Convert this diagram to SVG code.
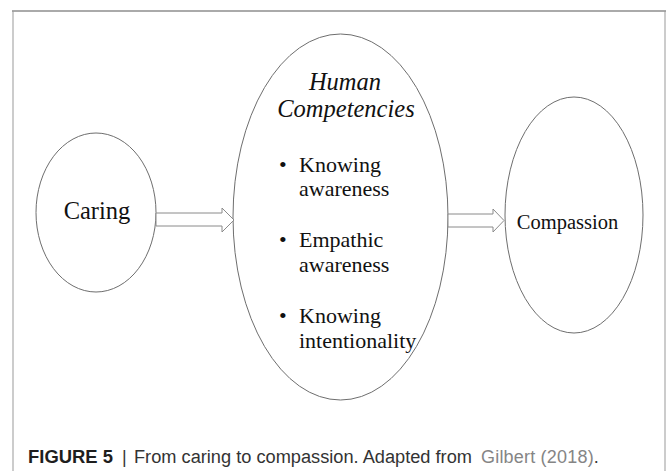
<svg xmlns="http://www.w3.org/2000/svg" width="668" height="471" viewBox="0 0 668 471">
<style>
.node{fill:#fff;stroke:#6e6e6e;stroke-width:1}
.arrow{fill:#fff;stroke:#8a8a8a;stroke-width:1}
.serif{font-family:"Liberation Serif","Times New Roman",serif;fill:#111}
.cap{font-family:"Liberation Sans",Arial,sans-serif;font-size:18px}
</style>
<rect x="0" y="0" width="668" height="471" fill="#fff"/>
<g id="frame">
<line x1="12" y1="11" x2="666" y2="11" stroke="#aaa" stroke-width="2"/>
<line x1="13" y1="11" x2="13" y2="471" stroke="#999" stroke-width="1"/>
<line x1="665" y1="11" x2="665" y2="471" stroke="#999" stroke-width="1"/>
</g>
<g id="caring">
<ellipse class="node" cx="96" cy="212.5" rx="60" ry="79.5"/>
<text class="serif" x="97" y="219" font-size="24.5" text-anchor="middle">Caring</text>
</g>
<g id="competencies">
<ellipse class="node" cx="340.5" cy="217" rx="107.5" ry="183"/>
<text class="serif" x="345" y="90" font-size="24.5" font-style="italic" text-anchor="middle">Human</text>
<text class="serif" x="346" y="117" font-size="24.5" font-style="italic" text-anchor="middle">Competencies</text>
<g font-size="22" class="serif">
<text class="serif" x="279" y="172">•</text>
<text class="serif" x="299" y="172">Knowing</text>
<text class="serif" x="299" y="196">awareness</text>
<text class="serif" x="279" y="247">•</text>
<text class="serif" x="299" y="247">Empathic</text>
<text class="serif" x="299" y="272">awareness</text>
<text class="serif" x="279" y="323">•</text>
<text class="serif" x="299" y="323">Knowing</text>
<text class="serif" x="299" y="348">intentionality</text>
</g>
</g>
<g id="compassion">
<ellipse class="node" cx="574" cy="215" rx="69" ry="118"/>
<text class="serif" x="567.5" y="229" font-size="20.5" text-anchor="middle">Compassion</text>
</g>
<g id="connectors">
<polygon class="arrow" points="156,213 222,213 222,208 234,220 222,232 222,226 156,226"/>
<polygon class="arrow" points="448,214 493,214 493,209 504,220.5 493,232 493,227 448,227"/>
</g>
<g id="caption">
<text class="cap" x="28" y="463" font-weight="bold" fill="#1e1e1e" textLength="85" lengthAdjust="spacingAndGlyphs">FIGURE 5</text>
<text class="cap" x="122" y="463" fill="#333">|</text>
<text class="cap" x="134" y="463" fill="#333"><tspan textLength="343" lengthAdjust="spacingAndGlyphs">From caring to compassion. Adapted from </tspan><tspan dx="4" fill="#858585" letter-spacing="0.2">Gilbert (2018)</tspan><tspan>.</tspan></text>
</g>
</svg>
